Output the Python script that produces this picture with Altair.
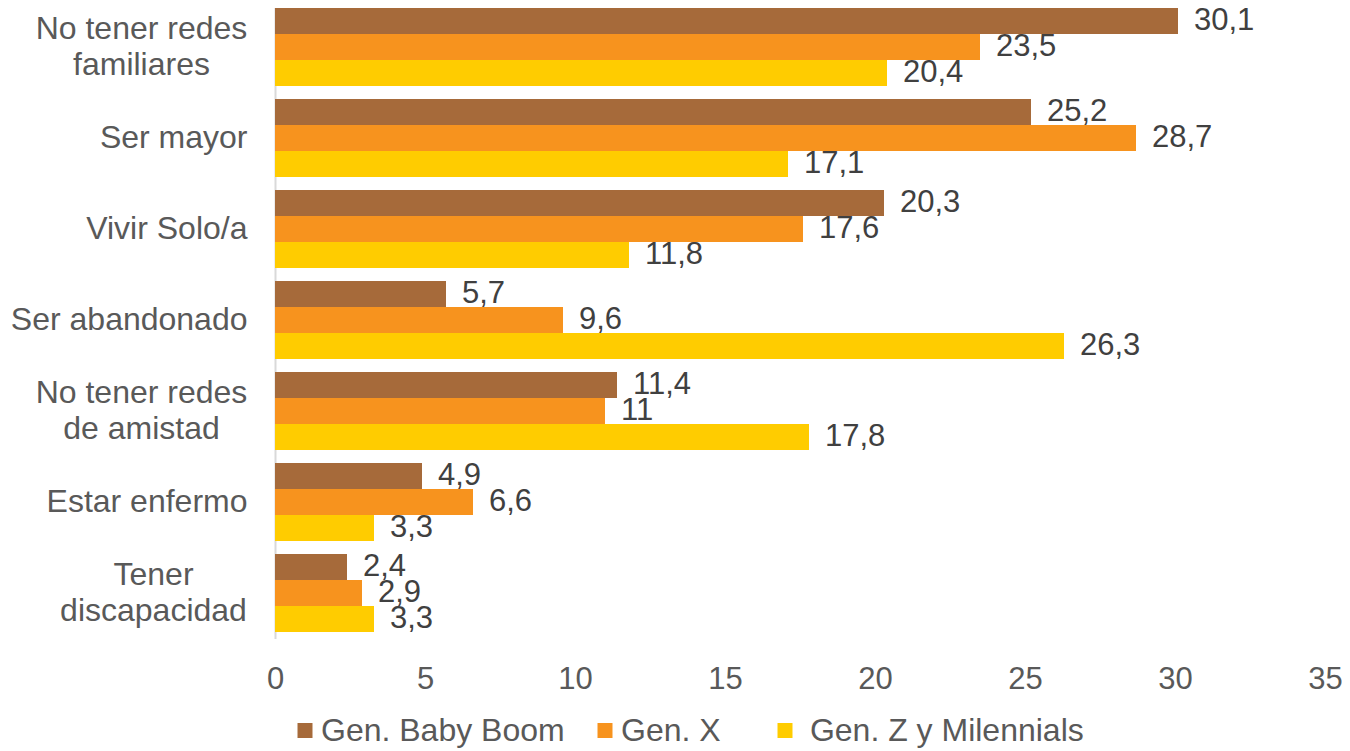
import altair as alt
import pandas as pd

categories = [
    "No tener redes familiares",
    "Ser mayor",
    "Vivir Solo/a",
    "Ser abandonado",
    "No tener redes de amistad",
    "Estar enfermo",
    "Tener discapacidad",
]
label_lines = [
    ["No tener redes", "familiares"],
    ["Ser mayor"],
    ["Vivir Solo/a"],
    ["Ser abandonado"],
    ["No tener redes", "de amistad"],
    ["Estar enfermo"],
    ["Tener", "discapacidad"],
]
series = ["Gen. Baby Boom", "Gen. X", "Gen. Z y Milennials"]
baby_boom = [30.1, 25.2, 20.3, 5.7, 11.4, 4.9, 2.4]
gen_x = [23.5, 28.7, 17.6, 9.6, 11, 6.6, 2.9]
gen_z = [20.4, 17.1, 11.8, 26.3, 17.8, 3.3, 3.3]
colors = ["#A66A3A", "#F7931E", "#FFCC00"]
x_ticks = [0, 5, 10, 15, 20, 25, 30, 35]

rows = []
for name, vals in zip(series, [baby_boom, gen_x, gen_z]):
    for c, v in zip(categories, vals):
        rows.append({"categoria": c, "serie": name, "valor": v})
df = pd.DataFrame(rows)

FONT = "Liberation Sans"

# multi-line labels for the y axis
expr = "datum.label"
for c, lines in zip(categories, label_lines):
    if len(lines) > 1:
        arr = "[" + ",".join("'" + l + "'" for l in lines) + "]"
        expr = f"datum.value == '{c}' ? {arr} : ({expr})"

test_wide = "datum.value == 'No tener redes familiares' || datum.value == 'No tener redes de amistad'"
test_tener = "datum.value == 'Tener discapacidad'"

y_enc = alt.Y(
    "categoria:N",
    sort=categories,
    scale=alt.Scale(paddingInner=0.143, paddingOuter=0.0715),
    axis=alt.Axis(
        title=None,
        ticks=False,
        tickSize=0,
        domain=True,
        domainColor="#D9D9D9",
        domainWidth=2,
        labelFont=FONT,
        labelFontSize=32,
        labelColor="#595959",
        labelLineHeight=36,
        labelLimit=400,
        labelExpr=expr,
        labelAlign={
            "condition": [
                {"test": test_wide, "value": "center"},
                {"test": test_tener, "value": "center"},
            ],
            "value": "right",
        },
        labelPadding={
            "condition": [
                {"test": test_wide, "value": 134},
                {"test": test_tener, "value": 122},
            ],
            "value": 28,
        },
        labelOffset={
            "condition": [
                {"test": test_wide, "value": -18},
                {"test": test_tener, "value": -18},
            ],
            "value": 0,
        },
    ),
)

x_enc = alt.X(
    "valor:Q",
    scale=alt.Scale(domain=[0, 35], nice=False, zero=True),
    axis=alt.Axis(
        title=None,
        values=x_ticks,
        grid=False,
        domain=False,
        ticks=False,
        tickSize=0,
        labelFlush=False,
        labelFont=FONT,
        labelFontSize=31,
        labelColor="#595959",
        labelPadding=26,
    ),
)

yoff = alt.YOffset(
    "serie:N",
    sort=series,
    scale=alt.Scale(paddingInner=0, paddingOuter=0),
)

NB = "\u00a0"
ZW = "\u200b"
TH = "\u2009"
legend_label_expr = (
    f"datum.label == 'Gen. X' ? 'Gen. X{NB}{NB}{TH}{ZW}' : "
    f"(datum.label == 'Gen. Z y Milennials' ? '{ZW}{NB}' + datum.label : datum.label)"
)

bars = alt.Chart(df).mark_bar(size=26).encode(
    x=x_enc,
    y=y_enc,
    yOffset=yoff,
    color=alt.Color(
        "serie:N",
        scale=alt.Scale(domain=series, range=colors),
        legend=alt.Legend(
            title=None,
            orient="none",
            legendX=14,
            legendY=713,
            direction="horizontal",
            symbolType="square",
            symbolSize=225,
            symbolStrokeWidth=0,
            labelFont=FONT,
            labelFontSize=32,
            labelColor="#595959",
            labelLimit=500,
            labelOffset=0,
            columnPadding=24,
            padding=0,
            labelExpr=legend_label_expr,
        ),
    ),
)

labels = alt.Chart(df).transform_calculate(
    etiqueta="replace(toString(datum.valor), '.', ',')"
).mark_text(
    align="left", baseline="middle", dx=16, font=FONT, fontSize=31, color="#404040"
).encode(
    x="valor:Q",
    y=alt.Y("categoria:N", sort=categories),
    yOffset=alt.YOffset("serie:N", sort=series),
    text="etiqueta:N",
)

chart = alt.layer(bars, labels).properties(
    width=1050,
    height=637,
    background="white",
    autosize=alt.AutoSizeParams(type="none"),
    padding={"left": 267, "top": -6.5, "right": 17, "bottom": 112},
).configure_view(strokeWidth=0, stroke="transparent")

chart.save("out.html", embed_options={"renderer": "svg", "actions": False})
